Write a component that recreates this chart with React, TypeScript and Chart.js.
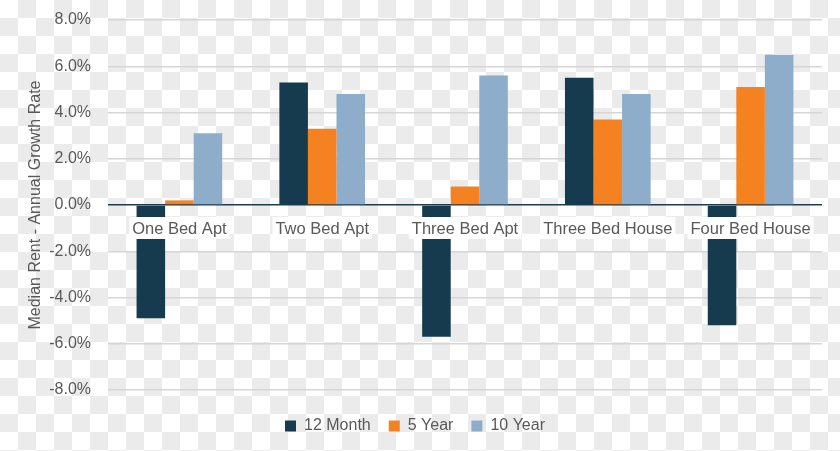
import React, { useEffect, useRef } from "react";
import { Chart, registerables } from "chart.js";

Chart.register(...registerables);

const categories = ["One Bed Apt", "Two Bed Apt", "Three Bed Apt", "Three Bed House", "Four Bed House"];
const month12 = [-4.9, 5.3, -5.7, 5.5, -5.2];
const year5 = [0.2, 3.3, 0.8, 3.7, 5.1];
const year10 = [3.1, 4.8, 5.6, 4.8, 6.5];
const seriesNames = ["12 Month", "5 Year", "10 Year"];
const yTicks = { min: -8, max: 8, step: 2 };

const FONT = 'Arial, "Liberation Sans", sans-serif';
const TEXT = "#595959";

const checkerPlugin = {
  id: "checker",
  beforeDraw(chart: any) {
    const { ctx, width, height } = chart;
    const s = 18;
    ctx.save();
    ctx.fillStyle = "#ffffff";
    ctx.fillRect(0, 0, width, height);
    ctx.fillStyle = "#ebebeb";
    for (let j = 0; j * s < height; j++) {
      for (let i = 0; i * s < width; i++) {
        if ((i + j) % 2 === 1) ctx.fillRect(i * s, j * s, s, s);
      }
    }
    ctx.restore();
  },
};

const catLabelPlugin = {
  id: "catLabels",
  afterDatasetsDraw(chart: any) {
    const { ctx, scales } = chart;
    const x = scales.x;
    const y = scales.y;
    const y0 = y.getPixelForValue(0) + 23;
    ctx.save();
    ctx.font = `16.5px ${FONT}`;
    ctx.textAlign = "center";
    ctx.textBaseline = "middle";
    chart.data.labels.forEach((lab: string, i: number) => {
      const cx = x.getPixelForValue(i);
      const w = ctx.measureText(lab).width;
      ctx.fillStyle = "#ffffff";
      ctx.fillRect(cx - w / 2 - 3, y0 - 11, w + 6, 22);
      ctx.fillStyle = TEXT;
      ctx.fillText(lab, cx, y0 + 1);
    });
    ctx.restore();
  },
};

export default function App() {
  const ref = useRef<HTMLCanvasElement | null>(null);
  useEffect(() => {
    if (!ref.current) return;
    const chart = new Chart(ref.current, {
      type: "bar",
      data: {
        labels: categories,
        datasets: [
          { label: seriesNames[0], data: month12, backgroundColor: "#163b4f" },
          { label: seriesNames[1], data: year5, backgroundColor: "#f58220" },
          { label: seriesNames[2], data: year10, backgroundColor: "#8eadca" },
        ],
      },
      options: {
        responsive: false,
        animation: false,
        layout: { padding: { left: 8, right: 18, top: 20, bottom: 7 } },
        datasets: { bar: { categoryPercentage: 0.6, barPercentage: 1.0 } },
        plugins: {
          legend: {
            position: "bottom",
            labels: {
              boxWidth: 11,
              boxHeight: 11,
              padding: 18,
              color: TEXT,
              font: { size: 16, family: FONT },
            },
          },
          tooltip: { enabled: false },
        },
        scales: {
          x: {
            display: true,
            ticks: { display: false },
            grid: { display: false, drawTicks: false },
            border: { display: false },
            afterFit: (s: any) => {
              s.height = 10;
            },
          },
          y: {
            min: yTicks.min,
            max: yTicks.max,
            ticks: {
              stepSize: yTicks.step,
              padding: 17,
              color: TEXT,
              font: { size: 16, family: FONT },
              callback: (v: any) => Number(v).toFixed(1) + "%",
            },
            grid: {
              drawTicks: false,
              color: (c: any) => (c.tick && c.tick.value === 0 ? "#1d3c50" : "#d6d6d6"),
              lineWidth: 1.5,
            },
            border: { display: false },
            title: {
              display: true,
              text: "Median Rent - Annual Growth Rate",
              color: TEXT,
              font: { size: 16, family: FONT },
              padding: { top: 18, bottom: 0 },
            },
            afterFit: (s: any) => {
              s.width = 100;
              s.paddingTop = 0;
              s.paddingBottom = 0;
            },
          },
        },
      },
      plugins: [checkerPlugin, catLabelPlugin],
    });
    return () => chart.destroy();
  }, []);
  return (
    <div style={{ position: "absolute", left: 0, top: 0, width: 840, height: 451 }}>
      <canvas ref={ref} width={840} height={451} style={{ display: "block" }} />
    </div>
  );
}
